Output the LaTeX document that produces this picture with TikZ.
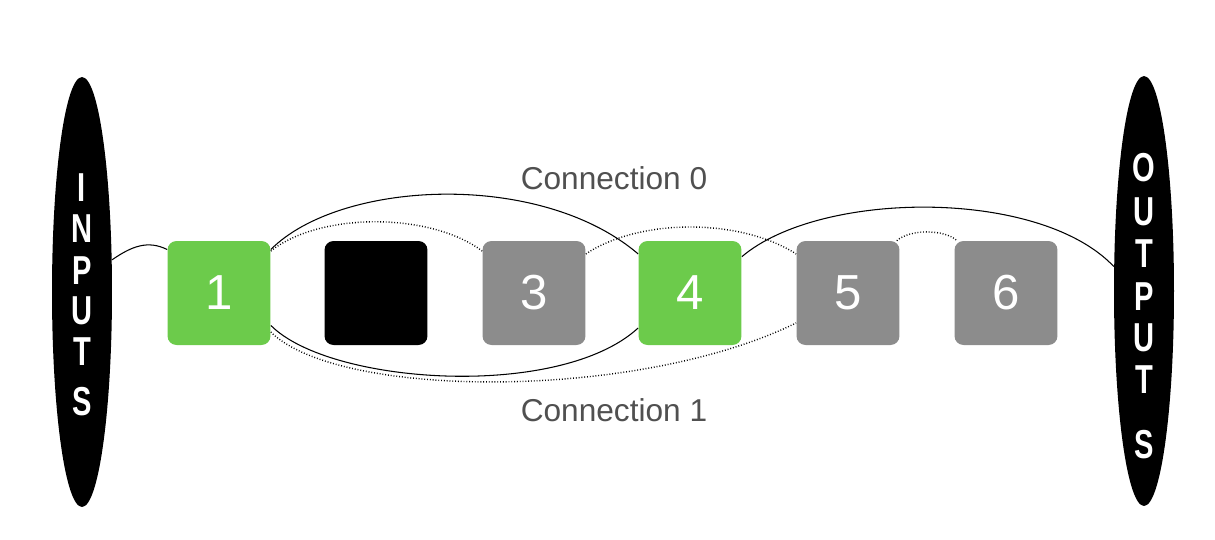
\documentclass[tikz,border=0pt]{standalone}
\usepackage{fontspec}
\usepackage{graphicx}
\setmainfont{Liberation Sans}
\usetikzlibrary{shapes.geometric}
\pgfdeclarelayer{background}
\pgfsetlayers{background,main}
\definecolor{boxgreen}{HTML}{6CCB4B}
\definecolor{boxgray}{HTML}{8C8C8C}
\definecolor{labelgray}{HTML}{505050}
\newcommand{\nl}[1]{\scalebox{0.72}[1]{#1}}
\tikzset{
  blob/.style={ellipse, fill=black, draw=none, minimum width=1.2cm, minimum height=8.6cm, inner sep=0pt},
  letter/.style={text=white, font=\fontsize{23}{23}\selectfont\bfseries, inner sep=0pt},
  cell/.style={rounded corners=0.18cm, minimum width=2.06cm, minimum height=2.08cm, inner sep=0pt, draw=none, text=white, font=\fontsize{28}{28}\selectfont},
  greencell/.style={cell, fill=boxgreen},
  graycell/.style={cell, fill=boxgray},
  blackcell/.style={cell, fill=black},
  solidlink/.style={line width=0.6pt, black},
  dotlink/.style={line width=0.8pt, black, dash pattern=on 0.5pt off 1.1pt},
  conlabel/.style={text=labelgray, font=\fontsize{18}{18}\selectfont, inner sep=0pt}
}
\begin{document}
\begin{tikzpicture}[x=0.02cm,y=-0.02cm]
\useasboundingbox (0,0) rectangle (1215,539);
% ellipses
\node[blob] (in) at (82,292) {};
\node[blob] (out) at (1144,291) {};
% letters
\node[letter] (i1) at (82,188) {\nl{I}};
\node[letter] (i2) at (82,229) {\nl{N}};
\node[letter] (i3) at (82,271) {\nl{P}};
\node[letter] (i4) at (82,311) {\nl{U}};
\node[letter] (i5) at (82,352) {\nl{T}};
\node[letter] (i6) at (82,402) {\nl{S}};
\node[letter] (o1) at (1144,168) {\nl{O}};
\node[letter] (o2) at (1144,212) {\nl{U}};
\node[letter] (o3) at (1144,254) {\nl{T}};
\node[letter] (o4) at (1144,297) {\nl{P}};
\node[letter] (o5) at (1144,338) {\nl{U}};
\node[letter] (o6) at (1144,380) {\nl{T}};
\node[letter] (o7) at (1144,445) {\nl{S}};
% boxes
\node[greencell] (b1) at (219,293) {1};
\node[blackcell] (b2) at (376,293) {};
\node[graycell] (b3) at (534,293) {3};
\node[greencell] (b4) at (690,293) {4};
\node[graycell] (b5) at (848,293) {5};
\node[graycell] (b6) at (1006,293) {6};
% labels
\node[conlabel] (l0) at (614,178) {Connection 0};
\node[conlabel] (l1) at (614,410) {Connection 1};
% connectors
\begin{pgfonlayer}{background}
\draw[solidlink] (in.47) .. controls (132,246) and (148,240) .. (b1.140);
\draw[solidlink] (b1.40) .. controls (340,180) and (540,170) .. (b4.143);
\draw[solidlink] (b4.35) .. controls (820,190) and (1040,188) .. (out.141);
\draw[solidlink] (b1.-32) .. controls (330,385) and (560,400) .. (b4.214);
\draw[dotlink] (b1.-37) .. controls (340,400) and (640,400) .. (b5.210);
\draw[dotlink] (b1.39) .. controls (320,212) and (430,212) .. (b3.141);
\draw[dotlink] (b3.37) .. controls (640,218) and (740,218) .. (b5.143);
\draw[dotlink] (b5.47) .. controls (910,229) and (944,229) .. (b6.133);
\end{pgfonlayer}
\end{tikzpicture}
\end{document}
